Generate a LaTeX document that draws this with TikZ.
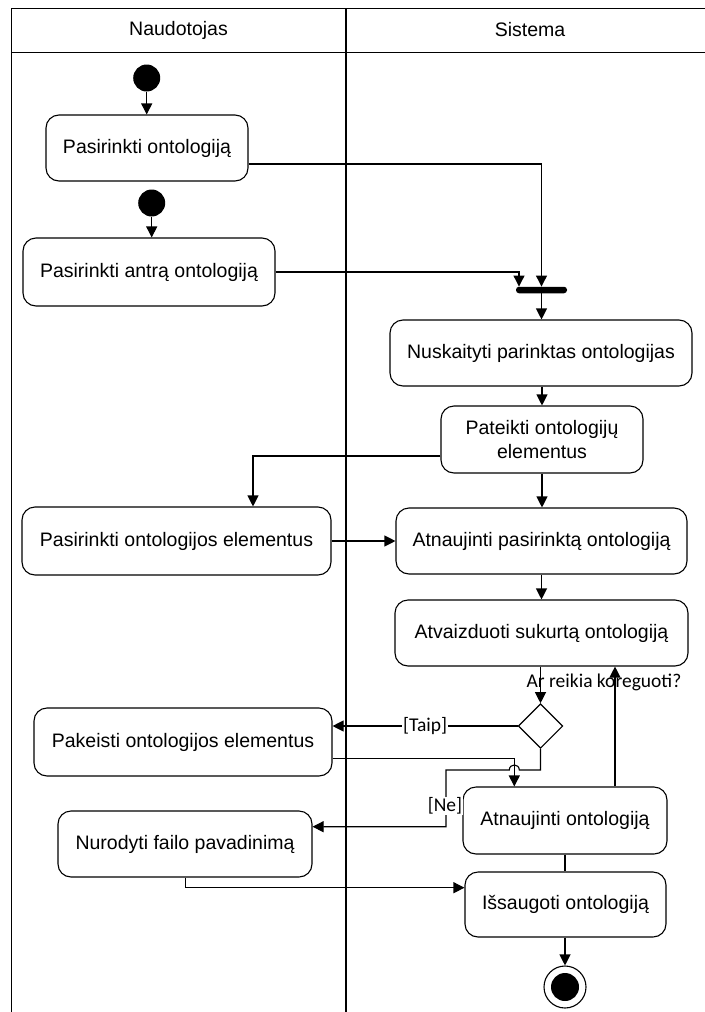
\documentclass[tikz,border=0pt]{standalone}
\usepackage{fontspec}
\setmainfont{Liberation Sans}
\newfontfamily\guardfont{Carlito}
\usetikzlibrary{arrows.meta,shapes.geometric,calc}

\begin{document}
\begin{tikzpicture}[x=1bp,y=-1bp,
  lane/.style={line width=1.3bp},
  action/.style={draw, rounded corners=13bp, line width=1.1bp, align=center,
    inner sep=0pt, font=\fontsize{19.5bp}{24bp}\selectfont},
  startnode/.style={circle, fill=black, inner sep=0pt, minimum size=27bp},
  forkbar/.style={fill=black, rounded corners=3bp, inner sep=0pt,
    minimum width=51bp, minimum height=6.5bp},
  decision/.style={diamond, draw, line width=1.1bp, inner sep=0pt,
    minimum width=44.5bp, minimum height=44.5bp, aspect=1},
  line/.style={line width=1.1bp},
  flow/.style={line, -{Triangle[length=11bp,width=11bp]}},
  guard/.style={font=\guardfont\fontsize{19.5bp}{24bp}\selectfont, inner sep=1bp},
  header/.style={font=\fontsize{19.5bp}{24bp}\selectfont}
]
\useasboundingbox (0,0) rectangle (705,1012);

% swimlanes
\draw[lane] (11.5,1012) -- (11.5,8.3) -- (705,8.3);
\draw[lane] (11.5,52.3) -- (705,52.3);
\draw[lane] (346,8.3) -- (346,1012);
\node[header] (h1) at (178.5,30) {Naudotojas};
\node[header] (h2) at (530,30) {Sistema};

% start nodes
\node[startnode] (s1) at (146.7,78) {};
\node[startnode] (s2) at (151.7,203) {};

% actions
\node[action, minimum width=202bp, minimum height=66bp] (b1) at (147,148) {Pasirinkti ontologiją};
\node[action, minimum width=252bp, minimum height=68bp] (b2) at (149,272) {Pasirinkti antrą ontologiją};
\node[forkbar] (fork) at (541.5,290) {};
\node[action, minimum width=302bp, minimum height=66bp] (b3) at (541,353) {Nuskaityti parinktas ontologijas};
\node[action, minimum width=202bp, minimum height=67bp] (b4) at (542,439.5) {Pateikti ontologijų\\elementus};
\node[action, minimum width=309bp, minimum height=68bp] (b5) at (176.5,541) {Pasirinkti ontologijos elementus};
\node[action, minimum width=291bp, minimum height=66bp] (b6) at (541.5,541) {Atnaujinti pasirinktą ontologiją};
\node[action, minimum width=293bp, minimum height=66bp] (b7) at (541.5,633) {Atvaizduoti sukurtą ontologiją};
\node[decision] (dec) at (540.5,726) {};
\node[action, minimum width=298bp, minimum height=68bp] (b8) at (183,742) {Pakeisti ontologijos elementus};
\node[action, minimum width=254bp, minimum height=66bp] (b9) at (185,844) {Nurodyti failo pavadinimą};
\node[action, minimum width=204bp, minimum height=67bp] (b10) at (565,820.5) {Atnaujinti ontologiją};
\node[action, minimum width=201bp, minimum height=65bp] (b11) at (565.5,904.5) {Išsaugoti ontologiją};

% final node
\node[circle, draw, line width=1.1bp, inner sep=0pt, minimum size=42bp] (fin) at (565,987) {};
\node[circle, fill=black, inner sep=0pt, minimum size=28bp] (fincore) at (fin) {};

% routing columns
\coordinate (colB) at (253,0);
\coordinate (colFork2) at (519,0);
\coordinate (colEdit) at (514.3,0);
\coordinate (colUp) at (615,0);
\coordinate (colSave) at (185.7,0);

% flows
\draw[flow] (s1) -- (s1 |- b1.north);
\draw[flow] (s2) -- (s2 |- b2.north);
\draw[flow] ($(b1.east)+(0,16)$) -| (fork.north);
\draw[flow] (b2.east) -| (fork.north -| colFork2);
\draw[flow] (fork.south) -- (fork.south |- b3.north);
\draw[flow] (b3.south -| b4.north) -- (b4.north);
\draw[flow] ($(b4.west)+(0,16.5)$) -| (b5.north -| colB);
\draw[flow] (b5.east) -- (b5.east -| b6.west);
\draw[flow] (b4.south) -- (b4.south |- b6.north);
\draw[flow] (b6.south) -- (b6.south |- b7.north);
\draw[flow] (b7.south -| dec.north) -- (dec.north);
\node[guard] (q) at (604,682) {Ar reikia koreguoti?};

\draw[flow] (dec.west) -- (dec.west -| b8.east)
  node[guard, fill=white, pos=0.5] (taip) {[Taip]};

% [Ne] branch, hopping over the edit flow
\draw[flow] (dec.south) -- (540.5,770) -- (519.3,770)
  .. controls (519.3,763.3) and (509.3,763.3) .. (509.3,770)
  -- (446,770) -- (446,826.7) -- ($(b9.east)+(0,-17.3)$);
\node[guard, fill=white] (ne) at (445,806) {[Ne]};

\draw[flow] ($(b8.east)+(0,16.3)$) -| (b10.north -| colEdit);
\draw[flow] (b10.north -| colUp) -- (b7.south -| colUp);
\draw[line] (b10.south) -- (b10.south |- b11.north);
\draw[flow] (b9.south -| colSave) |- ($(b11.west)+(0,-16.8)$);
\draw[flow] (b11.south -| fin.north) -- (fin.north);
\end{tikzpicture}
\end{document}
